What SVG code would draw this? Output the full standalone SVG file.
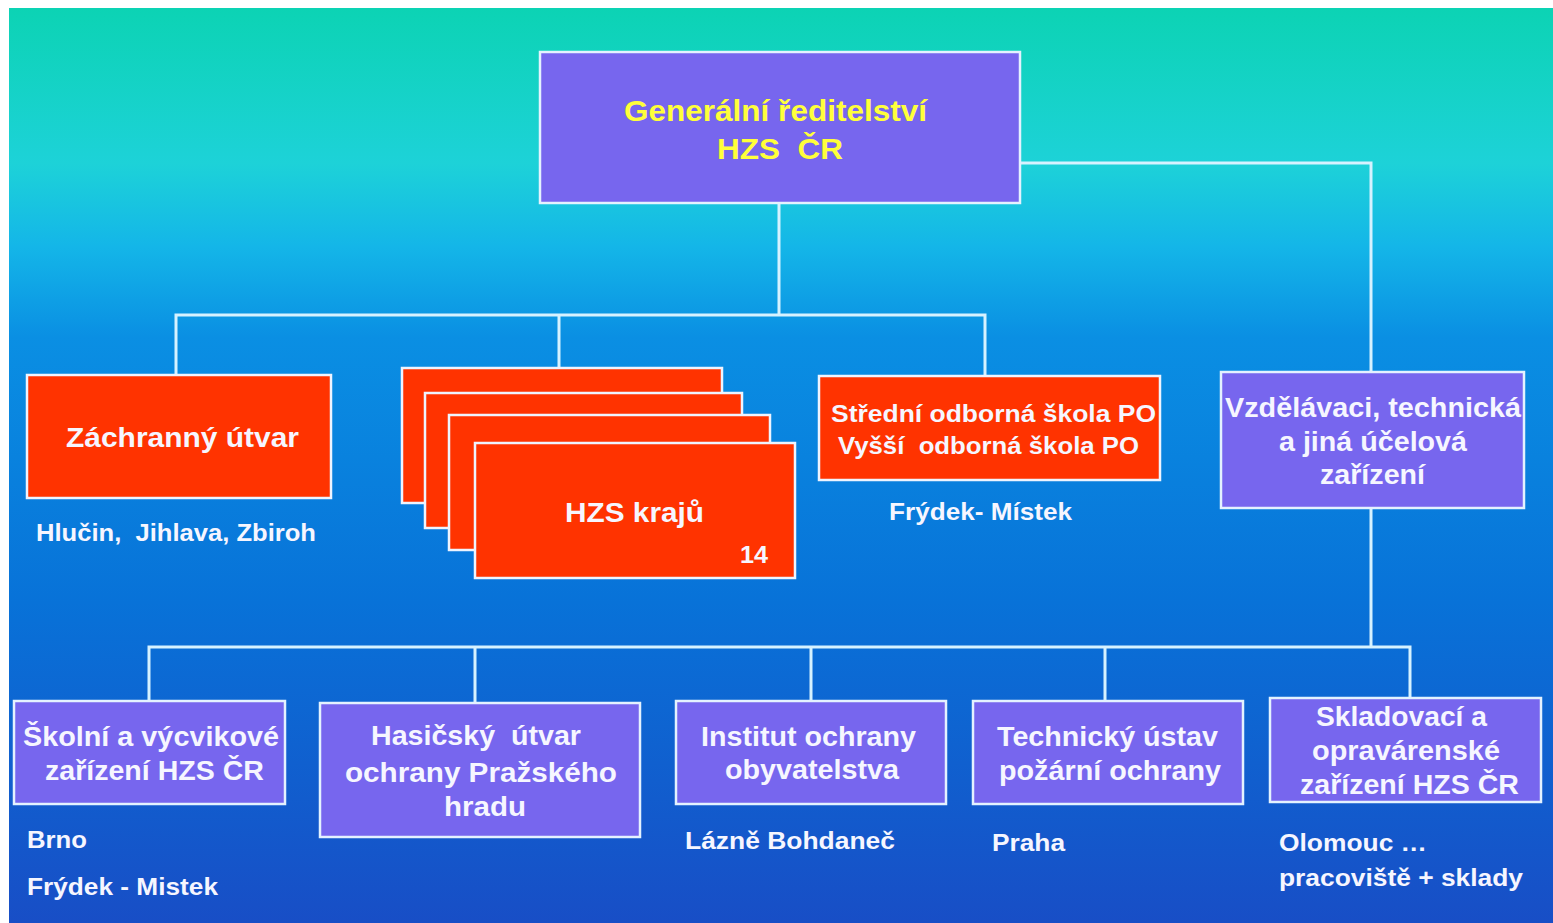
<svg xmlns="http://www.w3.org/2000/svg" width="1553" height="923" viewBox="0 0 1553 923">
<defs>
<linearGradient id="bg" x1="0" y1="0" x2="0" y2="1">
<stop offset="0" stop-color="#0cd3b4"/>
<stop offset="0.17" stop-color="#1dd2d8"/>
<stop offset="0.26" stop-color="#14b6e8"/>
<stop offset="0.36" stop-color="#0a8fe3"/>
<stop offset="0.65" stop-color="#0872d8"/>
<stop offset="1" stop-color="#184ec6"/>
</linearGradient>
</defs>
<style>
.pu{fill:#7766ee;stroke:#e4f2ff;stroke-width:2.5}
.rd{fill:#ff3300;stroke:#eef4ff;stroke-width:2.5}
.ln{fill:none;stroke:#d6f2ff;stroke-width:3}
text{font-family:"Liberation Sans",Arial,sans-serif;font-weight:bold;fill:#f6f6ff;white-space:pre}
.y{fill:#ffff3a}
.t{font-size:27px}
.s{font-size:24px}
</style>
<rect x="0" y="0" width="1553" height="923" fill="#ffffff"/>
<rect x="9" y="8" width="1544" height="915" fill="url(#bg)"/>
<g id="connectors">
<polyline class="ln" points="779,203 779,315"/>
<polyline class="ln" points="176,375 176,315 985,315 985,376"/>
<polyline class="ln" points="559,315 559,368"/>
<polyline class="ln" points="1020,163 1371,163 1371,372"/>
<polyline class="ln" points="1371,508 1371,647"/>
<polyline class="ln" points="149,701 149,647 1410,647 1410,698"/>
<polyline class="ln" points="475,647 475,703"/>
<polyline class="ln" points="811,647 811,701"/>
<polyline class="ln" points="1105,647 1105,701"/>
</g>
<g id="gr">
<rect class="pu" x="540" y="52" width="480" height="151"/>
<text class="y" x="624" y="121" font-size="30" textLength="303" lengthAdjust="spacingAndGlyphs">Generální ředitelství</text>
<text class="y" x="717" y="159" font-size="30" textLength="126" lengthAdjust="spacingAndGlyphs">HZS  ČR</text>
</g>
<g id="zachranny">
<rect class="rd" x="27" y="375" width="304" height="123"/>
<text x="66" y="447" font-size="28" textLength="233" lengthAdjust="spacingAndGlyphs">Záchranný útvar</text>
<text class="s" x="36" y="541" textLength="280" lengthAdjust="spacingAndGlyphs">Hlučin,  Jihlava, Zbiroh</text>
</g>
<g id="hzs-kraju">
<rect class="rd" x="402" y="368" width="320" height="135"/>
<rect class="rd" x="425" y="393" width="317" height="135"/>
<rect class="rd" x="449" y="415" width="321" height="135"/>
<rect class="rd" x="475" y="443" width="320" height="135"/>
<text x="565" y="522" font-size="28" textLength="139" lengthAdjust="spacingAndGlyphs">HZS krajů</text>
<text class="s" x="740" y="563" textLength="28" lengthAdjust="spacingAndGlyphs">14</text>
</g>
<g id="skola">
<rect class="rd" x="819" y="376" width="341" height="104"/>
<text class="s" x="831" y="422" textLength="325" lengthAdjust="spacingAndGlyphs">Střední odborná škola PO</text>
<text class="s" x="838" y="454" textLength="301" lengthAdjust="spacingAndGlyphs">Vyšší  odborná škola PO</text>
<text class="s" x="889" y="520" textLength="183" lengthAdjust="spacingAndGlyphs">Frýdek- Místek</text>
</g>
<g id="vzdelavaci">
<rect class="pu" x="1221" y="372" width="303" height="136"/>
<text class="t" x="1225" y="417" textLength="296" lengthAdjust="spacingAndGlyphs">Vzdělávaci, technická</text>
<text class="t" x="1279" y="451" textLength="188" lengthAdjust="spacingAndGlyphs">a jiná účelová</text>
<text class="t" x="1320" y="484" textLength="105" lengthAdjust="spacingAndGlyphs">zařízení</text>
</g>
<g id="skolni">
<rect class="pu" x="14" y="701" width="271" height="103"/>
<text class="t" x="23" y="746" textLength="256" lengthAdjust="spacingAndGlyphs">Školní a výcvikové</text>
<text class="t" x="45" y="780" textLength="219" lengthAdjust="spacingAndGlyphs">zařízení HZS ČR</text>
<text class="s" x="27" y="848" textLength="60" lengthAdjust="spacingAndGlyphs">Brno</text>
<text class="s" x="27" y="895" textLength="191" lengthAdjust="spacingAndGlyphs">Frýdek - Mistek</text>
</g>
<g id="hasicsky">
<rect class="pu" x="320" y="703" width="320" height="134"/>
<text class="t" x="371" y="745" textLength="210" lengthAdjust="spacingAndGlyphs">Hasičský  útvar</text>
<text class="t" x="345" y="782" textLength="272" lengthAdjust="spacingAndGlyphs">ochrany Pražského</text>
<text class="t" x="444" y="816" textLength="82" lengthAdjust="spacingAndGlyphs">hradu</text>
</g>
<g id="institut">
<rect class="pu" x="676" y="701" width="270" height="103"/>
<text class="t" x="701" y="746" textLength="215" lengthAdjust="spacingAndGlyphs">Institut ochrany</text>
<text class="t" x="725" y="779" textLength="174" lengthAdjust="spacingAndGlyphs">obyvatelstva</text>
<text class="s" x="685" y="849" textLength="210" lengthAdjust="spacingAndGlyphs">Lázně Bohdaneč</text>
</g>
<g id="technicky">
<rect class="pu" x="973" y="701" width="270" height="103"/>
<text class="t" x="997" y="746" textLength="221" lengthAdjust="spacingAndGlyphs">Technický ústav</text>
<text class="t" x="999" y="780" textLength="222" lengthAdjust="spacingAndGlyphs">požární ochrany</text>
<text class="s" x="992" y="851" textLength="73" lengthAdjust="spacingAndGlyphs">Praha</text>
</g>
<g id="skladovaci">
<rect class="pu" x="1270" y="698" width="271" height="104"/>
<text class="t" x="1316" y="726" textLength="171" lengthAdjust="spacingAndGlyphs">Skladovací a</text>
<text class="t" x="1312" y="760" textLength="188" lengthAdjust="spacingAndGlyphs">opravárenské</text>
<text class="t" x="1300" y="794" textLength="219" lengthAdjust="spacingAndGlyphs">zařízení HZS ČR</text>
<text class="s" x="1279" y="851" textLength="148" lengthAdjust="spacingAndGlyphs">Olomouc …</text>
<text class="s" x="1279" y="886" textLength="244" lengthAdjust="spacingAndGlyphs">pracoviště + sklady</text>
</g>
</svg>
